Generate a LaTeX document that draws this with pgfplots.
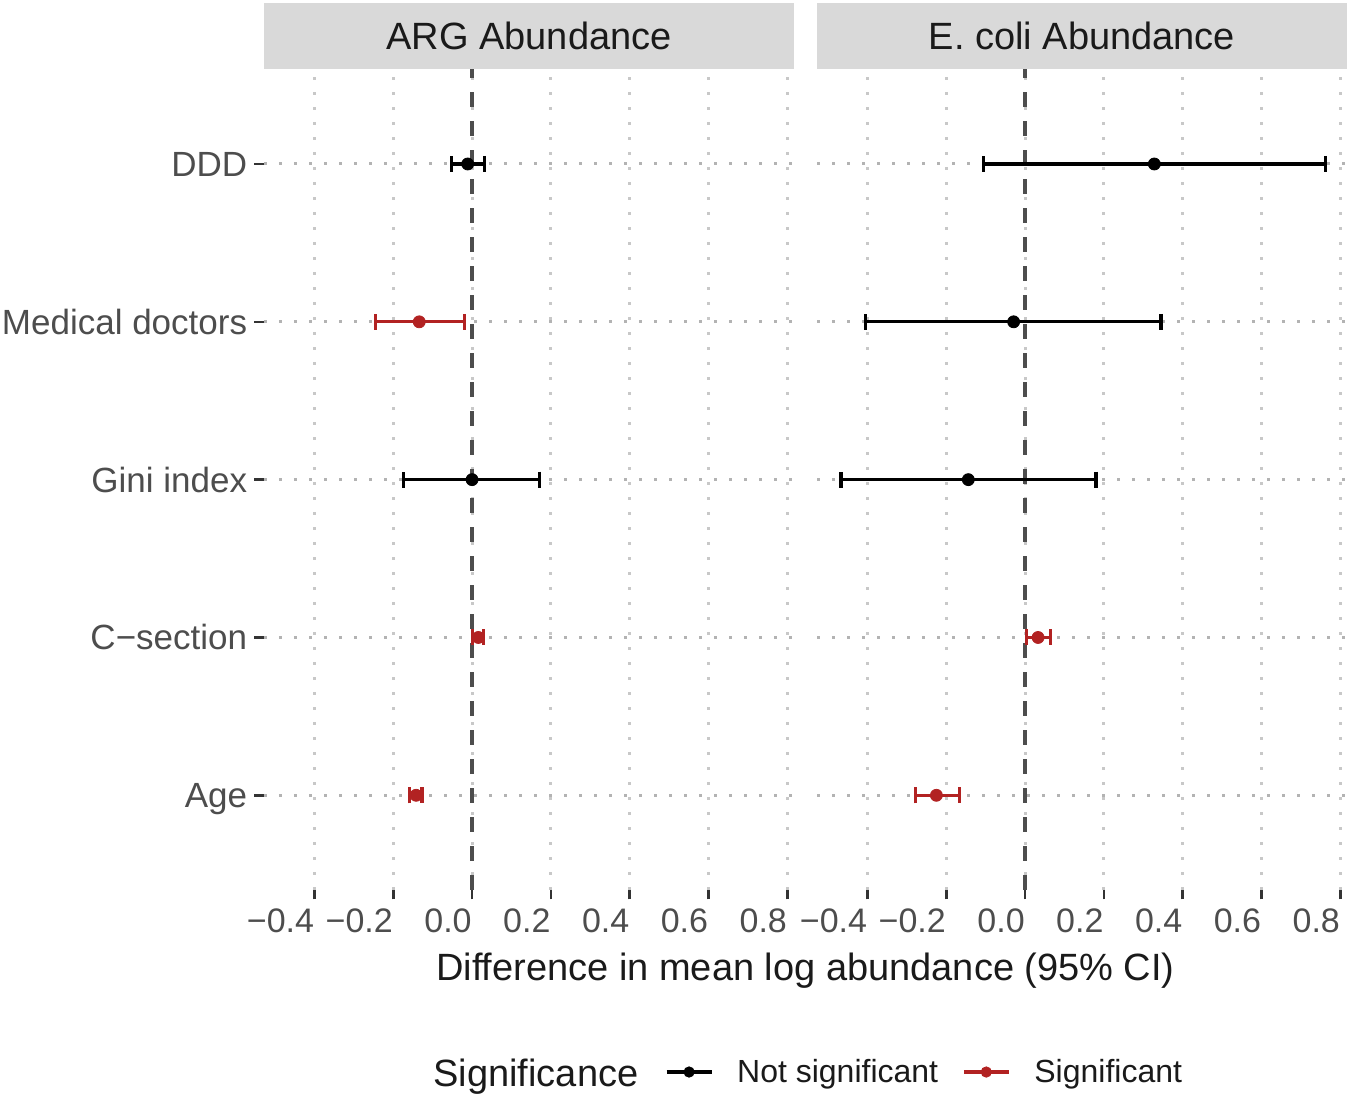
\documentclass[border=0pt]{standalone}
\usepackage{fontspec}
\setmainfont{Liberation Sans}
\usepackage{pgfplots}
\usepackage{pgfplotstable}
\pgfplotsset{compat=1.18}

\definecolor{sigred}{HTML}{B22222}
\definecolor{stripgray}{HTML}{D9D9D9}
\definecolor{txtgray}{HTML}{4D4D4D}
\definecolor{tickgray}{HTML}{333333}
\definecolor{hgrid}{HTML}{B3B3B3}
\definecolor{vgrid}{HTML}{C8C8C8}
\definecolor{zeroline}{HTML}{4D4D4D}
\definecolor{nearblack}{HTML}{1A1A1A}

% y: 5 = DDD, 4 = Medical doctors, 3 = Gini index, 2 = C-section, 1 = Age
\pgfplotstableread{
y  est     lo      hi
5  -0.011  -0.053  0.031
3   0.000  -0.173  0.171
}\argns
\pgfplotstableread{
y  est     lo      hi
4  -0.134  -0.246  -0.020
2   0.016   0.002   0.030
1  -0.142  -0.158  -0.127
}\argsig
\pgfplotstableread{
y  est     lo      hi
5   0.328  -0.106  0.762
4  -0.029  -0.405  0.345
3  -0.144  -0.467  0.180
}\ecolins
\pgfplotstableread{
y  est     lo      hi
2   0.033   0.003   0.065
1  -0.225  -0.279  -0.167
}\ecolisig

\pgfplotsset{
  panel/.style={
    scale only axis, width=265pt, height=410.35pt,
    xmin=-0.528, xmax=0.817, ymin=0.4, ymax=5.6,
    axis line style={draw=none},
    xtick={-0.4,-0.2,0,0.2,0.4,0.6,0.8},
    xticklabels={−0.4,−0.2,0.0,0.2,0.4,0.6,0.8},
    ytick={1,2,3,4,5},
    tick pos=left, tick align=outside, major tick length=4.75pt,
    tick style={tickgray, line width=1.3pt},
    xticklabel style={anchor=north east, inner sep=0pt,
      font=\fontsize{17}{20}\selectfont, text=txtgray},
    xticklabel shift=4.5pt,
    xmajorgrids, ymajorgrids,
    x grid style={vgrid, line width=1.5pt, dash pattern=on 1.5pt off 6pt},
    y grid style={hgrid, line width=1.5pt, dash pattern=on 1.5pt off 6pt},
    clip=false,
  },
  ci/.style={only marks, mark=*, mark size=3pt, color=#1, forget plot,
    error bars/.cd, x dir=both, x explicit, error mark=|,
    error mark options={mark size=4pt, line width=1.6pt, color=#1},
    error bar style={line width=1.6pt, color=#1}},
  zero/.style={zeroline, line width=1.7pt, dash pattern=on 7.25pt off 7.25pt, forget plot},
}

\begin{document}
\begin{tikzpicture}
\useasboundingbox (0,0) rectangle (675pt,548.5pt);

% facet strips
\fill[stripgray] (132pt,513.85pt) rectangle (397pt,546.85pt);
\fill[stripgray] (408.5pt,513.85pt) rectangle (673.5pt,546.85pt);
\node[anchor=base, inner sep=0pt, font=\fontsize{19}{23}\selectfont, text=nearblack]
  at (264.5pt,523.55pt) {ARG Abundance};
\node[anchor=base, inner sep=0pt, font=\fontsize{19}{23}\selectfont, text=nearblack]
  at (541pt,523.55pt) {E. coli Abundance};

\begin{axis}[panel, at={(132pt,103.5pt)}, anchor=south west,
  yticklabels={Age,C−section,Gini index,Medical doctors,DDD},
  yticklabel style={anchor=base east, inner sep=0pt, yshift=-6.2pt,
    font=\fontsize{17.5}{21}\selectfont, text=txtgray},
  yticklabel shift=3.5pt,
  legend style={draw=none, fill=none, inner sep=0pt, outer sep=0pt,
    at={(0.7566,-0.2218)}, anchor=west, legend columns=-1,
    font=\fontsize{16}{19}\selectfont, text=nearblack,
    nodes={inner sep=0pt},
    /tikz/every even column/.append style={column sep=12pt},
    /tikz/every odd column/.append style={column sep=12pt}},
  legend image code/.code={
    \draw[#1, line width=1.6pt] (0pt,0pt) -- (22.5pt,0pt);
    \fill[#1] (11.25pt,0pt) circle (2.6pt);},
]
\addlegendimage{black}
\addlegendentry{Not significant}
\addlegendimage{sigred}
\addlegendentry{Significant}
\addplot[zero] coordinates {(0,0.4) (0,5.6)};
\addplot[ci=black] table[x=est, y=y,
  x error plus expr=\thisrow{hi}-\thisrow{est},
  x error minus expr=\thisrow{est}-\thisrow{lo}] {\argns};
\addplot[ci=sigred] table[x=est, y=y,
  x error plus expr=\thisrow{hi}-\thisrow{est},
  x error minus expr=\thisrow{est}-\thisrow{lo}] {\argsig};
\end{axis}

\begin{axis}[panel, at={(408.5pt,103.5pt)}, anchor=south west,
  yticklabels={,,,,}, ytick style={draw=none}]
\addplot[zero] coordinates {(0,0.4) (0,5.6)};
\addplot[ci=black] table[x=est, y=y,
  x error plus expr=\thisrow{hi}-\thisrow{est},
  x error minus expr=\thisrow{est}-\thisrow{lo}] {\ecolins};
\addplot[ci=sigred] table[x=est, y=y,
  x error plus expr=\thisrow{hi}-\thisrow{est},
  x error minus expr=\thisrow{est}-\thisrow{lo}] {\ecolisig};
\end{axis}

\node[anchor=base, inner sep=0pt, font=\fontsize{19}{23}\selectfont, text=nearblack]
  at (402.75pt,58.15pt) {Difference in mean log abundance (95\% CI)};
\node[anchor=base west, inner sep=0pt, font=\fontsize{19}{23}\selectfont, text=nearblack]
  at (216.5pt,5.25pt) {Significance};
\end{tikzpicture}
\end{document}
